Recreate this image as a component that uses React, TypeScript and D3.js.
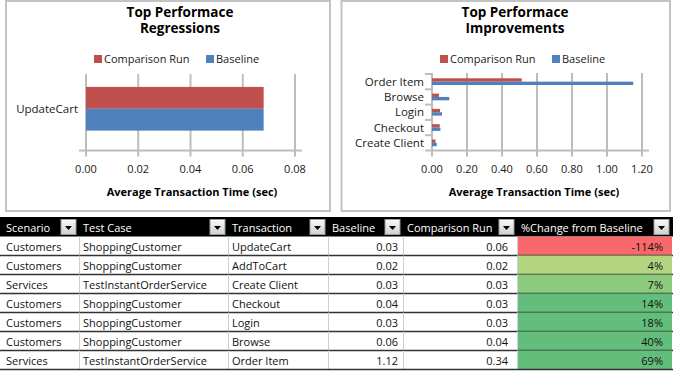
import React from "react";
import * as d3 from "d3";

// ---------- Data ----------
const regressionCategories = ["UpdateCart"];
const regressionComparison = [0.068];
const regressionBaseline = [0.068];
const regressionTicks = [0, 0.02, 0.04, 0.06, 0.08];

const improvementCategories = ["Order Item", "Browse", "Login", "Checkout", "Create Client"];
const improvementComparison = [0.513, 0.04, 0.046, 0.044, 0.02];
const improvementBaseline = [1.15, 0.099, 0.057, 0.048, 0.027];
const improvementTicks = [0, 0.2, 0.4, 0.6, 0.8, 1.0, 1.2];

const seriesNames = ["Comparison Run", "Baseline"];

const tableColumns = ["Scenario", "Test Case", "Transaction", "Baseline", "Comparison Run", "%Change from Baseline"];
const scenarios = ["Customers", "Customers", "Services", "Customers", "Customers", "Customers", "Services"];
const testCases = ["ShoppingCustomer", "ShoppingCustomer", "TestInstantOrderService", "ShoppingCustomer", "ShoppingCustomer", "ShoppingCustomer", "TestInstantOrderService"];
const transactions = ["UpdateCart", "AddToCart", "Create Client", "Checkout", "Login", "Browse", "Order Item"];
const baselineTimes = [0.03, 0.02, 0.03, 0.04, 0.03, 0.06, 1.12];
const comparisonTimes = [0.06, 0.02, 0.03, 0.03, 0.03, 0.04, 0.34];
const pctChanges = [-114, 4, 7, 14, 18, 40, 69];

// ---------- Styles ----------
const FONT = "'Open Sans', 'Noto Sans', sans-serif";
const FS = 11;
const RED = "#c0504d";
const BLUE = "#4f81bd";
const GRID = "#bdbdbd";
const TEXT = "#1a1a1a";

type ChartProps = {
  box: [number, number, number, number];
  titleLines: string[];
  titleX: number;
  legendX: number;
  categories: string[];
  comp: number[];
  base: number[];
  ticks: number[];
  xRange: [number, number];
  yRange: [number, number];
  padInner: number;
  padOuter: number;
  align: number;
  bandTicks: boolean;
  axisTitleX: number;
};

function BarChart(p: ChartProps) {
  const x = d3.scaleLinear().domain([0, p.ticks[p.ticks.length - 1]]).range(p.xRange);
  const y = d3
    .scaleBand<string>()
    .domain(p.categories)
    .range(p.yRange)
    .paddingInner(p.padInner)
    .paddingOuter(p.padOuter)
    .align(p.align);
  const sub = d3.scaleBand<string>().domain(seriesNames).range([0, y.bandwidth()]);
  const [top, bottom] = p.yRange;
  const [x0, x1] = p.xRange;
  const fmt = d3.format(".2f");
  const step = (bottom - top) / p.categories.length;
  const boundaries = d3.range(p.categories.length).map((i) => top + i * step);
  return (
    <g>
      <rect x={p.box[0]} y={p.box[1]} width={p.box[2]} height={p.box[3]} fill="#fff" stroke="#c3c3c3" strokeWidth={2} />
      <text x={p.titleX} y={17} textAnchor="middle" fontFamily={FONT} fontWeight="bold" fontSize={13.5} fill="#000">
        {p.titleLines.map((t, i) => (
          <tspan key={t} x={p.titleX} y={17 + i * 15.5}>
            {t}
          </tspan>
        ))}
      </text>
      {seriesNames.map((s, i) => (
        <g key={s} transform={`translate(${p.legendX + i * 112},0)`}>
          <rect x={0} y={55} width={8} height={8} fill={i === 0 ? RED : BLUE} />
          <text x={10} y={62.5} fontFamily={FONT} fontSize={FS} fill={TEXT}>
            {s}
          </text>
        </g>
      ))}
      {p.ticks.map((t) => (
        <line key={"g" + t} x1={x(t)} x2={x(t)} y1={top - 1} y2={bottom + 6} stroke={GRID} strokeWidth={2} />
      ))}
      <line x1={x0 - 7} x2={x1 + 7} y1={bottom} y2={bottom} stroke={GRID} strokeWidth={2} />
      {p.bandTicks &&
        boundaries.map((b, i) => <line key={"b" + i} x1={x0 - 7} x2={x0} y1={b} y2={b} stroke={GRID} strokeWidth={2} />)}
      {p.categories.map((c, i) => (
        <g key={c}>
          <rect x={x(0)} y={(y(c) as number) + (sub(seriesNames[0]) as number)} width={x(p.comp[i]) - x(0)} height={sub.bandwidth()} fill={RED} />
          <rect x={x(0)} y={(y(c) as number) + (sub(seriesNames[1]) as number)} width={x(p.base[i]) - x(0)} height={sub.bandwidth()} fill={BLUE} />
          <text x={x0 - 8} y={(y(c) as number) + y.bandwidth() / 2 + 4} textAnchor="end" fontFamily={FONT} fontSize={FS + 0.5} fill={TEXT}>
            {c}
          </text>
        </g>
      ))}
      {p.ticks.map((t) => (
        <text key={"t" + t} x={x(t)} y={173} textAnchor="middle" fontFamily={FONT} fontSize={FS} fill={TEXT}>
          {fmt(t)}
        </text>
      ))}
      <text x={p.axisTitleX} y={195.5} textAnchor="middle" fontFamily={FONT} fontWeight="bold" fontSize={11} fill="#000">
        Average Transaction Time (sec)
      </text>
    </g>
  );
}

const colEdges = [0, 79, 228, 328, 403, 517, 672];
const colAlign = ["start", "start", "start", "end", "end", "end"];
const colPad = [6, 4, 4, 5, 9, 9];

export default function App() {
  const headerTop = 217;
  const headerH = 19.5;
  const rowH = 19;
  const rowsTop = headerTop + headerH;
  const pctColor = d3
    .scaleLinear<string>()
    .domain([-114, -1.5, 10])
    .range(["#f8696b", "#ffeb84", "#63be7b"])
    .clamp(true);
  const fmt2 = d3.format(".2f");
  const rows = transactions.map((t, i) => [
    scenarios[i],
    testCases[i],
    t,
    fmt2(baselineTimes[i]),
    fmt2(comparisonTimes[i]),
    pctChanges[i] + "%",
  ]);

  return (
    <svg width={673} height={372} style={{ position: "absolute", left: 0, top: 0, background: "#fff" }}>
      <defs>
        <linearGradient id="btn" x1="0" y1="0" x2="0" y2="1">
          <stop offset="0" stopColor="#fbfbfb" />
          <stop offset="1" stopColor="#cfcfcf" />
        </linearGradient>
      </defs>
      <rect width={673} height={372} fill="#fff" />
      <BarChart
        box={[6, 1, 324, 210]}
        titleLines={["Top Performace", "Regressions"]}
        titleX={180}
        legendX={94}
        categories={regressionCategories}
        comp={regressionComparison}
        base={regressionBaseline}
        ticks={regressionTicks}
        xRange={[86, 295]}
        yRange={[75, 150.5]}
        padInner={0.267}
        padOuter={0.267}
        align={0.375}
        bandTicks={false}
        axisTitleX={192}
      />
      <BarChart
        box={[341.5, 1, 328.5, 210]}
        titleLines={["Top Performace", "Improvements"]}
        titleX={515}
        legendX={440}
        categories={improvementCategories}
        comp={improvementComparison}
        base={improvementBaseline}
        ticks={improvementTicks}
        xRange={[432, 642]}
        yRange={[74, 150.5]}
        padInner={0.56}
        padOuter={0.28}
        align={0.5}
        bandTicks={true}
        axisTitleX={534}
      />

      {/* Table header */}
      <rect x={0} y={headerTop} width={673} height={headerH} fill="#000" />
      {tableColumns.map((c, j) => {
        const bx = colEdges[j + 1] - 18;
        return (
          <g key={c}>
            <text x={colEdges[j] + (j === 0 ? 6 : 4)} y={headerTop + 14.5} fontFamily={FONT} fontSize={FS} fill="#fff">
              {c}
            </text>
            <rect x={bx} y={headerTop + 2.5} width={15} height={15} fill="url(#btn)" stroke="#9a9a9a" strokeWidth={1} />
            <path d={`M${bx + 4},${headerTop + 9} L${bx + 11},${headerTop + 9} L${bx + 7.5},${headerTop + 13} Z`} fill="#000" />
          </g>
        );
      })}

      {/* Table rows */}
      {rows.map((r, i) => {
        const top = rowsTop + i * rowH;
        return (
          <g key={i}>
            <rect x={colEdges[5]} y={top} width={colEdges[6] - colEdges[5]} height={rowH} fill={pctColor(pctChanges[i])} />
            {r.map((v, j) => {
              const isEnd = colAlign[j] === "end";
              const tx = isEnd ? colEdges[j + 1] - colPad[j] : colEdges[j] + colPad[j];
              return (
                <text key={j} x={tx} y={top + 14.5} textAnchor={isEnd ? "end" : "start"} fontFamily={FONT} fontSize={FS} fill="#111">
                  {v}
                </text>
              );
            })}
            {colEdges.slice(1, 6).map((e) => (
              <line key={e} x1={e + 0.5} x2={e + 0.5} y1={top} y2={top + rowH} stroke="#c9d0dd" strokeWidth={1} />
            ))}
            <line x1={0} x2={673} y1={top + rowH} y2={top + rowH} stroke="#333" strokeWidth={1.5} />
          </g>
        );
      })}
    </svg>
  );
}
